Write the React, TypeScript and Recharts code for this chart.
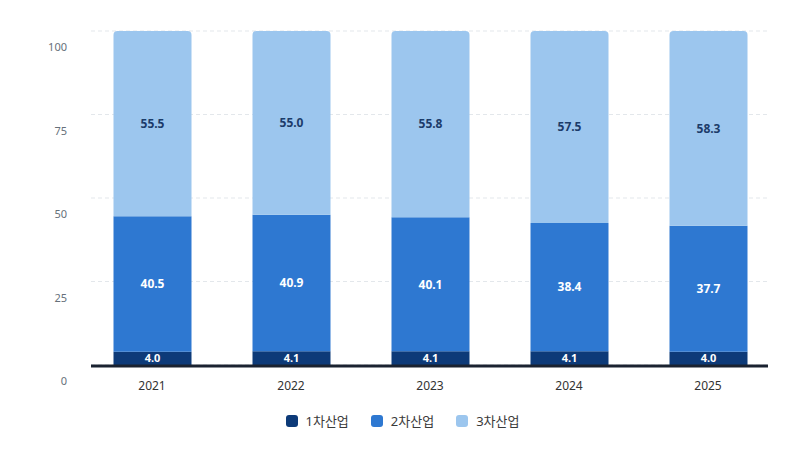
import { BarChart, Bar, XAxis, YAxis, CartesianGrid, LabelList } from "recharts";

const years = ["2021", "2022", "2023", "2024", "2025"];
const primary = [4.0, 4.1, 4.1, 4.1, 4.0];
const secondary = [40.5, 40.9, 40.1, 38.4, 37.7];
const tertiary = [55.5, 55.0, 55.8, 57.5, 58.3];
const yTicks = [0, 25, 50, 75, 100];

const SERIES = [
  { key: "p", name: "1차산업", color: "#0d3a78", label: "#ffffff" },
  { key: "s", name: "2차산업", color: "#2e78d1", label: "#ffffff" },
  { key: "t", name: "3차산업", color: "#9cc6ee", label: "#1c3c6a" },
];

const FONT = '"Noto Sans", "Noto Sans CJK KR", sans-serif';

const data = years.map((year, i) => ({
  year,
  p: primary[i],
  s: secondary[i],
  t: tertiary[i],
}));

function YTick({ y, payload }: any) {
  return (
    <text x={67} y={y + 16} dy={4} textAnchor="end" fontSize={11} fill="#66707a" fontFamily={FONT}>
      {payload.value}
    </text>
  );
}

function XTick({ x, y, payload }: any) {
  return (
    <text x={x} y={y + 13} dy={4} textAnchor="middle" fontSize={12} fill="#333" fontFamily={FONT}>
      {payload.value}
    </text>
  );
}

export default function App() {
  return (
    <div style={{ position: "absolute", left: 0, top: 0, width: 805, height: 450, background: "#fff" }}>
      <BarChart
        width={805}
        height={450}
        data={data}
        margin={{ top: 31, right: 37, bottom: 55, left: 0 }}
        barSize={78}
      >
        <CartesianGrid vertical={false} stroke="#e3e7eb" strokeDasharray="4 3" />
        <YAxis
          width={91}
          domain={[0, 100]}
          ticks={yTicks}
          axisLine={false}
          tickLine={false}
          tick={<YTick />}
        />
        <XAxis
          dataKey="year"
          height={30}
          padding={{ left: -8.5, right: -9.5 }}
          axisLine={{ stroke: "#1a2230", strokeWidth: 3, transform: "translate(0,1)" }}
          tickLine={false}
          tick={<XTick />}
        />
        {SERIES.map((s, idx) => (
          <Bar
            key={s.key}
            dataKey={s.key}
            name={s.name}
            stackId="a"
            fill={s.color}
            radius={idx === 2 ? [4, 4, 0, 0] : 0}
            isAnimationActive={false}
          >
            <LabelList
              dataKey={s.key}
              position="center"
              fill={s.label}
              fontSize={idx === 0 ? 11 : 12}
              fontWeight={700}
              fontFamily={FONT}
              formatter={(v: any) => Number(v).toFixed(1)}
            />
          </Bar>
        ))}
      </BarChart>
      <div
        style={{
          position: "absolute",
          left: 0,
          top: 411,
          width: 805,
          display: "flex",
          justifyContent: "center",
          gap: 22,
          fontFamily: FONT,
          fontSize: 13,
          color: "#3a3a3a",
        }}
      >
        {SERIES.map((s) => (
          <div key={s.key} style={{ display: "flex", alignItems: "center", gap: 8 }}>
            <span style={{ width: 12, height: 12, borderRadius: 3, background: s.color, display: "inline-block" }} />
            <span>{s.name}</span>
          </div>
        ))}
      </div>
    </div>
  );
}
